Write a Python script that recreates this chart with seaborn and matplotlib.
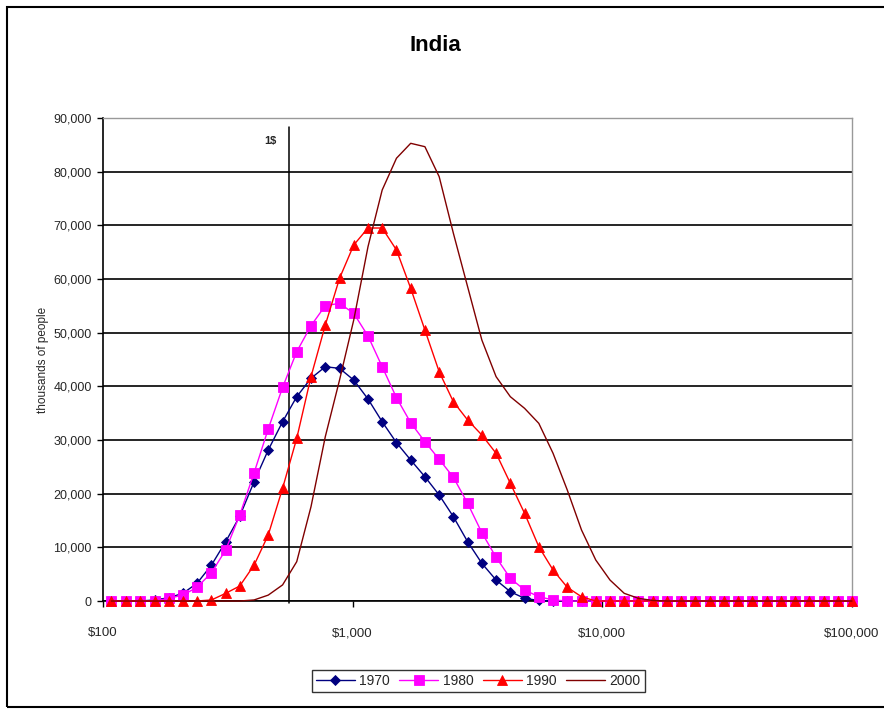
#!/usr/bin/env python3
"""India: income distribution by decade (thousands of people per income bin)."""
import numpy as np
import pandas as pd
import matplotlib
matplotlib.use("Agg")
import matplotlib.pyplot as plt
import seaborn as sns
from matplotlib.patches import Rectangle
from matplotlib.ticker import FuncFormatter

# income bins ($ per year, log spaced)
income = [108, 124, 141, 161, 183, 209, 238, 272, 310, 353,
          403, 459, 524, 597, 681, 777, 886, 1010, 1152, 1313,
          1498, 1708, 1947, 2221, 2532, 2887, 3292, 3754, 4281, 4882,
          5567, 6348, 7238, 8254, 9413, 10733, 12239, 13956, 15915, 18148,
          20694, 23598, 26909, 30686, 34991, 39901, 45500, 51885, 59165, 67467,
          76934, 87730, 100000]

pop_1970 = [0, 0, 0, 200, 600, 1430, 3300, 6700, 11050, 15800,
            22230, 28130, 33400, 38070, 41500, 43650, 43350, 41170, 37640, 33400,
            29500, 26270, 23160, 19750, 15710, 11050, 7020, 3910, 1730, 500,
            100, 0, 0, 0, 0, 0, 0, 0, 0, 0,
            0, 0, 0, 0, 0, 0, 0, 0, 0, 0,
            0, 0, 0]

pop_1980 = [0, 0, 0, 0, 500, 1100, 2550, 5280, 9500, 16020,
            23900, 32050, 39800, 46450, 51300, 55030, 55460, 53600, 49380, 43650,
            37880, 33220, 29680, 26400, 23050, 18200, 12730, 8140, 4230, 2050,
            800, 200, 0, 0, 0, 0, 0, 0, 0, 0,
            0, 0, 0, 0, 0, 0, 0, 0, 0, 0,
            0, 0, 0]

pop_1990 = [0, 0, 0, 0, 0, 0, 0, 200, 1430, 2800,
            6700, 12300, 21000, 30300, 41800, 51420, 60130, 66330, 69500, 69500,
            65400, 58260, 50490, 42720, 37130, 33730, 30930, 27520, 21930, 16340,
            10120, 5780, 2550, 800, 0, 0, 0, 0, 0, 0,
            0, 0, 0, 0, 0, 0, 0, 0, 0, 0,
            0, 0, 0]

pop_2000 = [0, 0, 0, 0, 0, 0, 0, 0, 0, 0,
            200, 1100, 3000, 7330, 17570, 30620, 41170, 52360, 66020, 76580,
            82500, 85280, 84650, 79060, 68510, 58560, 48630, 41800, 38070, 35900,
            33100, 27520, 20680, 13230, 7640, 3910, 1430, 500, 100, 0,
            0, 0, 0, 0, 0, 0, 0, 0, 0, 0,
            0, 0, 0]

years = ["1970", "1980", "1990", "2000"]
series = [pop_1970, pop_1980, pop_1990, pop_2000]
x_ticks = [100, 1000, 10000, 100000]
x_tick_labels = ["$100", "$1,000", "$10,000", "$100,000"]
y_ticks = [0, 10000, 20000, 30000, 40000, 50000, 60000, 70000, 80000, 90000]
one_dollar_line = 556      # $1 a day marker
one_dollar_label = "1$"

colors = ["#000080", "#FF00FF", "#FF0000", "#800000"]
markers = ["D", "s", "^", None]
marker_sizes = [5, 6.5, 6.5, 0]

sns.set_style("white")
plt.rcParams["font.family"] = ["Liberation Sans", "DejaVu Sans"]

fig, ax = plt.subplots(figsize=(8.84, 7.09), dpi=100)
fig.subplots_adjust(left=0.1165, right=0.9638, bottom=0.1523, top=0.8336)

for year, vals, c, m, ms in zip(years, series, colors, markers, marker_sizes):
    df = pd.DataFrame({"income": income, "pop": vals})
    sns.lineplot(data=df, x="income", y="pop", ax=ax, color=c, marker=m,
                 markersize=ms, markeredgecolor=c, markeredgewidth=0.6,
                 linewidth=1.0, label=year, clip_on=False, zorder=3)

ax.set_xscale("log")
ax.set_xlim(100, 100000)
ax.set_ylim(0, 90000)
ax.set_xticks(x_ticks)
ax.set_xticklabels(x_tick_labels, fontsize=9.5)
ax.xaxis.set_minor_locator(matplotlib.ticker.NullLocator())
ax.set_yticks(y_ticks)
ax.yaxis.set_major_formatter(FuncFormatter(lambda v, p: f"{int(v):,}"))
ax.tick_params(axis="y", labelsize=9, length=4, width=1, direction="out",
               pad=4, left=True, color="black")
ax.tick_params(axis="x", length=4, width=1, direction="out", pad=15,
               bottom=True, color="black")
ax.set_xlabel("")
ax.set_ylabel("thousands of people", fontsize=8.5, labelpad=3)

ax.yaxis.grid(True, color="black", linewidth=1.2)
ax.xaxis.grid(False)
ax.set_axisbelow(True)

for side in ["left", "bottom"]:
    ax.spines[side].set_color("black")
    ax.spines[side].set_linewidth(1.2)
for side in ["top", "right"]:
    ax.spines[side].set_visible(True)
    ax.spines[side].set_color("#999999")
    ax.spines[side].set_linewidth(1.0)

# $1 a day reference line
ax.axvline(one_dollar_line, ymin=-0.005, ymax=0.981, color="black",
           linewidth=1.1, clip_on=False, zorder=2)
ax.annotate(one_dollar_label, xy=(one_dollar_line, 86000), xytext=(-9, -1),
            textcoords="offset points", ha="right", va="center",
            fontsize=8, fontweight="bold")

fig.text(0.492, 0.9365, "India", ha="center", va="center", fontsize=16,
         fontweight="bold", color="black",
         family=["Liberation Sans Narrow", "Liberation Sans", "DejaVu Sans"])

leg = ax.legend(loc="center", bbox_to_anchor=(0.541, 0.0395),
                bbox_transform=fig.transFigure, ncol=4, frameon=True,
                fancybox=False, shadow=False, fontsize=10, handlelength=2.8,
                handletextpad=0.3, columnspacing=0.7, borderpad=0.3)
leg.get_frame().set_edgecolor("black")
leg.get_frame().set_linewidth(1.0)

# outer chart border
fig.patches.append(Rectangle((0.0079, 0.003), 1.0, 0.987, transform=fig.transFigure,
                             fill=False, edgecolor="black", linewidth=1.5))

fig.savefig("out.png", dpi=100)
plt.close(fig)
